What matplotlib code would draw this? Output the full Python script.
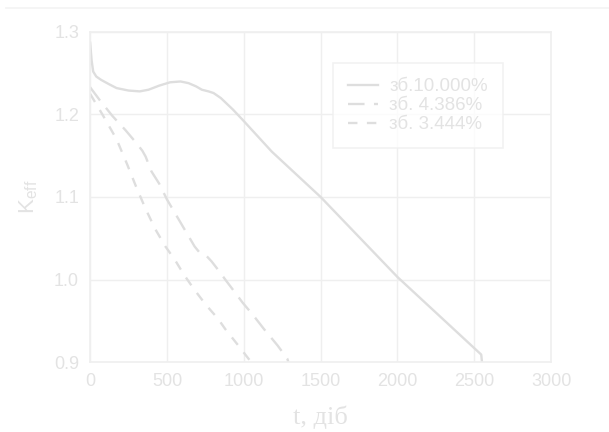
import matplotlib
matplotlib.use("Agg")
import matplotlib.pyplot as plt
from matplotlib.lines import Line2D

# зб. 10.000%
t1 = [0, 10, 20, 40, 71, 120, 172, 250, 323, 380, 450, 520, 588, 640, 690, 727, 770, 803, 850, 929, 1000, 1182, 1500, 2000, 2545, 2550]
k1 = [1.287, 1.265, 1.252, 1.246, 1.242, 1.237, 1.232, 1.229, 1.228, 1.230, 1.235, 1.239, 1.240, 1.238, 1.234, 1.230, 1.228, 1.226, 1.220, 1.206, 1.192, 1.155, 1.100, 1.003, 0.909, 0.900]

# зб. 4.386%
t2 = [0, 60, 146, 230, 298, 340, 361, 399, 450, 500, 601, 680, 715, 760, 790, 840, 879, 940, 992, 1060, 1131, 1220, 1283, 1290]
k2 = [1.233, 1.218, 1.198, 1.181, 1.166, 1.156, 1.149, 1.131, 1.116, 1.097, 1.065, 1.040, 1.032, 1.028, 1.022, 1.010, 1.000, 0.985, 0.972, 0.957, 0.940, 0.920, 0.904, 0.900]

# зб. 3.444%
t3 = [0, 80, 172, 240, 298, 360, 424, 490, 551, 610, 677, 730, 778, 830, 879, 960, 1043]
k3 = [1.225, 1.200, 1.170, 1.140, 1.113, 1.086, 1.061, 1.040, 1.024, 1.006, 0.988, 0.975, 0.964, 0.953, 0.940, 0.921, 0.901]

labels = ["зб.10.000%", "зб. 4.386%", "зб. 3.444%"]

line_c = "#dedede"
text_c = "#e3e3e3"
grid_c = "#efefef"

plt.rcParams['font.family'] = ['Liberation Sans', 'DejaVu Sans']
plt.rcParams['mathtext.default'] = 'regular'

fig = plt.figure(figsize=(6.09, 4.32), dpi=100)
ax = fig.add_axes([0.148, 0.162, 0.757, 0.764])

ax.plot(t1, k1, color=line_c, lw=1.7, ls='-', label=labels[0])
ax.plot(t2, k2, color=line_c, lw=1.7, ls=(0, (7, 4)), label=labels[1])
ax.plot(t3, k3, color=line_c, lw=1.7, ls=(0, (4, 4)), label=labels[2])

ax.set_xlim(0, 3000)
ax.set_ylim(0.9, 1.3)
ax.set_xticks([0, 500, 1000, 1500, 2000, 2500, 3000])
ax.set_yticks([0.9, 1.0, 1.1, 1.2, 1.3])
ax.set_yticklabels(["0.9", "1.0", "1.1", "1.2", "1.3"])
ax.grid(True, color=grid_c, lw=1.0)
ax.set_axisbelow(True)
for s in ax.spines.values():
    s.set_color(grid_c)
    s.set_linewidth(1.2)
ax.tick_params(length=0, pad=8, labelsize=13, colors=text_c)

ax.set_xlabel("t, діб", fontsize=19, color=text_c, family=['Liberation Serif', 'DejaVu Serif'], labelpad=11)
ax.set_ylabel("K$_{eff}$", fontsize=16, color=text_c, labelpad=10)

leg = ax.legend(loc='upper left', bbox_to_anchor=(0.527, 0.906), borderaxespad=0, fontsize=13.5,
                frameon=True, fancybox=False, handlelength=1.6, labelspacing=0.1,
                borderpad=0.8, handletextpad=0.6, labelcolor=text_c)
leg.get_frame().set_edgecolor(grid_c)
leg.get_frame().set_linewidth(1.2)

fig.add_artist(Line2D([0.01, 1.0], [0.981, 0.981], color="#f3f3f3", lw=1.2, transform=fig.transFigure))

fig.savefig("out.png", dpi=100)
